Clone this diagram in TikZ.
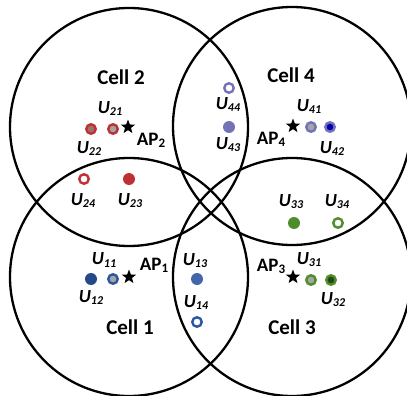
\documentclass[tikz,border=0pt]{standalone}
\usepackage{fontspec}
\setmainfont{Carlito}
\usetikzlibrary{shapes.geometric}
\definecolor{ured}{RGB}{190,48,50}
\definecolor{ublue}{RGB}{44,86,158}
\definecolor{uviolet}{RGB}{116,114,182}
\definecolor{ugreen}{RGB}{78,140,44}
\definecolor{ugray}{RGB}{165,165,165}
\newcommand{\ulbl}[1]{\textbf{\textit{U}}\raisebox{-2pt}{\fontsize{12}{12}\selectfont\bfseries\itshape #1}}
\newcommand{\aplbl}[1]{\textbf{AP}\raisebox{-2pt}{\fontsize{13}{13}\selectfont\bfseries #1}}

\begin{document}
\begin{tikzpicture}[x=1pt,y=-1pt]
    \tikzset{cellring/.style={circle, draw, line width=2.3pt, minimum size=238pt, inner sep=0pt},
      celllabel/.style={font=\fontsize{21}{21}\selectfont\bfseries},
      usrlabel/.style={font=\fontsize{18.5}{18.5}\selectfont, inner sep=0pt},
      aplabel/.style={font=\fontsize{19}{19}\selectfont, inner sep=0pt},
      apstar/.style={star, star points=5, star point ratio=2.4, fill=black, minimum size=15pt, inner sep=0pt},
      udot/.style={circle, fill=#1, minimum size=12pt, inner sep=0pt},
      uring/.style={circle, draw=#1, line width=2.4pt, fill=white, minimum size=9.5pt, inner sep=0pt},
      ugrey/.style={circle, draw=#1, line width=2.4pt, fill=ugray, minimum size=9.5pt, inner sep=0pt}}
    \useasboundingbox (0,0) rectangle (407,396);

    % the four cells
    \node[cellring] (c2) at (129,127) {};
    \node[cellring] (c4) at (292,126) {};
    \node[cellring] (c1) at (129,277) {};
    \node[cellring] (c3) at (292,277) {};
    \node[celllabel] (l2) at (121,77) {Cell 2};
    \node[celllabel] (l4) at (291,75) {Cell 4};
    \node[celllabel] (l1) at (130,327) {Cell 1};
    \node[celllabel] (l3) at (292,327) {Cell 3};

    % Cell 2
    \node[apstar] (ap2) at (128,127) {};
    \node[aplabel] at (151,140) {\aplbl{2}};
    \node[ugrey=ured] (u21) at (113,129) {};
    \node[ugrey=ured, fill=ured!45!black!60] (u22) at (91,129) {};
    \node[udot=ured] (u23) at (129,179) {};
    \node[uring=ured] (u24) at (84,179) {};
    \node[usrlabel] at (110,109) {\ulbl{21}};
    \node[usrlabel] at (89,149) {\ulbl{22}};
    \node[usrlabel] at (130,201) {\ulbl{23}};
    \node[usrlabel] at (83,201) {\ulbl{24}};

    % Cell 4
    \node[apstar] (ap4) at (293,126) {};
    \node[aplabel] at (271,139) {\aplbl{4}};
    \node[ugrey=uviolet] (u41) at (311,127) {};
    \node[ugrey=uviolet, fill=blue!70!black] (u42) at (330,127) {};
    \node[udot=uviolet] (u43) at (229,127) {};
    \node[uring=uviolet] (u44) at (229,88) {};
    \node[usrlabel] at (309,107) {\ulbl{41}};
    \node[usrlabel] at (332,149) {\ulbl{42}};
    \node[usrlabel] at (228,145) {\ulbl{43}};
    \node[usrlabel] at (228,105) {\ulbl{44}};

    % Cell 1
    \node[apstar] (ap1) at (129,277) {};
    \node[aplabel] at (154,265) {\aplbl{1}};
    \node[ugrey=ublue] (u11) at (113,279) {};
    \node[udot=ublue!85!black] (u12) at (91,279) {};
    \node[udot=ublue!90!white] (u13) at (197,279) {};
    \node[uring=ublue] (u14) at (197,322) {};
    \node[usrlabel] at (104,260) {\ulbl{11}};
    \node[usrlabel] at (91,297) {\ulbl{12}};
    \node[usrlabel] at (195,261) {\ulbl{13}};
    \node[usrlabel] at (196,302) {\ulbl{14}};

    % Cell 3
    \node[apstar] (ap3) at (293,277) {};
    \node[aplabel] at (271,266) {\aplbl{3}};
    \node[ugrey=ugreen] (u31) at (311,280) {};
    \node[ugrey=ugreen, fill=ugreen!50!black] (u32) at (331,280) {};
    \node[udot=ugreen] (u33) at (294,223) {};
    \node[uring=ugreen] (u34) at (338,223) {};
    \node[usrlabel] at (309,260) {\ulbl{31}};
    \node[usrlabel] at (333,300) {\ulbl{32}};
    \node[usrlabel] at (291,202) {\ulbl{33}};
    \node[usrlabel] at (337,202) {\ulbl{34}};
  \end{tikzpicture}
\end{document}
